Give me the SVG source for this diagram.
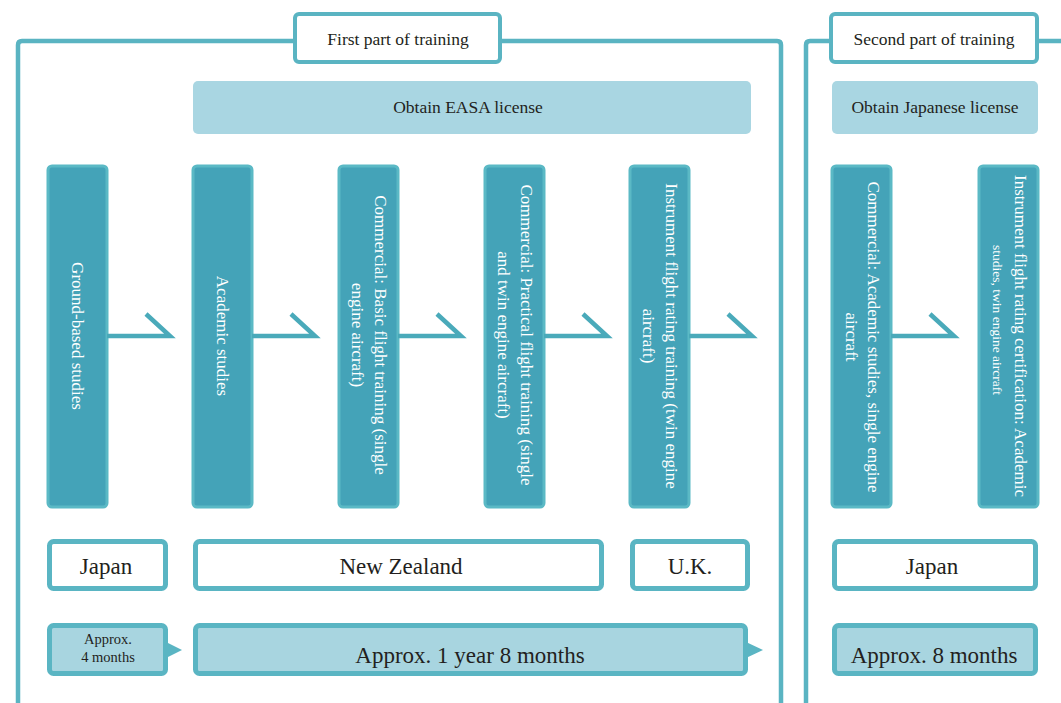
<svg xmlns="http://www.w3.org/2000/svg" width="1061" height="703" viewBox="0 0 1061 703">
<style>
.frame{fill:none;stroke:#5ab4c2;stroke-width:4.5}
.label{fill:#fff;stroke:#5ab4c2;stroke-width:4}
.lic{fill:#a9d6e2}
.bar{fill:#44a3b8;stroke:#5bb9c5;stroke-width:3}
.box{fill:#fff;stroke:#5ab5c3;stroke-width:5}
.dur{fill:#a8d5e0;stroke:#5ab5c3;stroke-width:5}
.ptr{fill:#5ab5c3}
.t{font-family:"Liberation Serif","Times New Roman",serif;fill:#231f20;text-anchor:middle}
.w{font-family:"Liberation Serif","Times New Roman",serif;fill:#fff;text-anchor:middle;font-size:17px}
.conn{fill:none;stroke:#4aaaba;stroke-width:4.5;stroke-linejoin:miter}
</style>
<rect width="1061" height="703" fill="#fff"/>
<g id="frames">
<path class="frame" d="M18 703 V45 Q18 41 22 41 H777 Q781 41 781 45 V703"/>
<path class="frame" d="M806 703 V45 Q806 41 810 41 H1061"/>
</g>
<g id="first-part"><rect class="label" x="295" y="14" width="205" height="48" rx="4"/><text class="t" x="398" y="45" font-size="17.5">First part of training</text></g>
<g id="second-part"><rect class="label" x="831" y="14" width="206" height="48" rx="4"/><text class="t" x="934" y="45" font-size="17.5">Second part of training</text></g>
<g id="easa"><rect class="lic" x="193" y="81" width="558" height="53" rx="5"/><text class="t" x="468" y="113" font-size="17.5">Obtain EASA license</text></g>
<g id="jlicense"><rect class="lic" x="832" y="81" width="206" height="53" rx="5"/><text class="t" x="935" y="113" font-size="17.5">Obtain Japanese license</text></g>

<g id="bar-ground"><rect class="bar" x="48" y="166" width="59" height="341" rx="4"/>
<text class="w" transform="translate(77.5,336) rotate(90)" y="5.6">Ground-based studies</text></g>
<g id="bar-academic"><rect class="bar" x="193" y="166" width="59" height="341" rx="4"/>
<text class="w" transform="translate(222.5,336) rotate(90)" y="5.6">Academic studies</text></g>
<g id="bar-basic"><rect class="bar" x="339" y="166" width="59" height="341" rx="4"/>
<text class="w" transform="translate(368.5,335) rotate(90)"><tspan x="0" y="-6">Commercial: Basic flight training (single</tspan><tspan x="0" y="16.5">engine aircraft)</tspan></text></g>
<g id="bar-practical"><rect class="bar" x="485" y="166" width="59" height="341" rx="4"/>
<text class="w" transform="translate(514.5,335) rotate(90)"><tspan x="0" y="-6">Commercial: Practical flight training (single</tspan><tspan x="0" y="16.5">and twin engine aircraft)</tspan></text></g>
<g id="bar-instrument"><rect class="bar" x="630" y="166" width="59" height="341" rx="4"/>
<text class="w" transform="translate(659.5,336) rotate(90)"><tspan x="0" y="-6">Instrument flight rating training (twin engine</tspan><tspan x="0" y="16.5">aircraft)</tspan></text></g>
<g id="bar-jcommercial"><rect class="bar" x="832" y="166" width="59" height="341" rx="4"/>
<text class="w" transform="translate(861.5,337) rotate(90)"><tspan x="0" y="-6">Commercial: Academic studies, single engine</tspan><tspan x="0" y="16">aircraft</tspan></text></g>
<g id="bar-jinstrument"><rect class="bar" x="979" y="166" width="59" height="341" rx="4"/>
<text class="w" transform="translate(1008.5,336) rotate(90)"><tspan x="0" y="-6">Instrument flight rating certification: Academic</tspan><tspan x="-16" y="15.5" font-size="13.5">studies, twin engine aircraft</tspan></text></g>

<g id="connectors">
<path class="conn" d="M107 336 H170 L146 314"/>
<path class="conn" d="M252 336 H315 L291 314"/>
<path class="conn" d="M398 336 H461 L437 314"/>
<path class="conn" d="M544 336 H607 L583 314"/>
<path class="conn" d="M689 336 H752 L728 314"/>
<path class="conn" d="M891 336 H954 L930 314"/>
</g>

<g id="loc-japan"><rect class="box" x="49.5" y="541.5" width="116" height="47" rx="4"/><text class="t" x="106" y="573.5" font-size="23">Japan</text></g>
<g id="loc-nz"><rect class="box" x="195.5" y="541.5" width="406" height="47" rx="4"/><text class="t" x="401" y="573.5" font-size="23">New Zealand</text></g>
<g id="loc-uk"><rect class="box" x="632.5" y="541.5" width="115" height="47" rx="4"/><text class="t" x="690" y="573.5" font-size="23">U.K.</text></g>
<g id="loc-japan2"><rect class="box" x="834.5" y="541.5" width="201" height="47" rx="4"/><text class="t" x="932" y="573.5" font-size="23">Japan</text></g>

<g id="dur-4m"><path class="ptr" d="M166 642 L182 650 L166 658 Z"/><rect class="dur" x="49.5" y="625.5" width="116" height="48" rx="4"/><text class="t" font-size="14.5"><tspan x="108" y="644">Approx.</tspan><tspan x="108" y="662">4 months</tspan></text></g>
<g id="dur-1y8m"><path class="ptr" d="M746 642 L763 650 L746 658 Z"/><rect class="dur" x="195.5" y="625.5" width="550" height="48" rx="4"/><text class="t" x="470" y="663" font-size="23">Approx. 1 year 8 months</text></g>
<g id="dur-8m"><rect class="dur" x="834.5" y="625.5" width="201" height="48" rx="4"/><text class="t" x="934" y="663" font-size="23">Approx. 8 months</text></g>
</svg>
